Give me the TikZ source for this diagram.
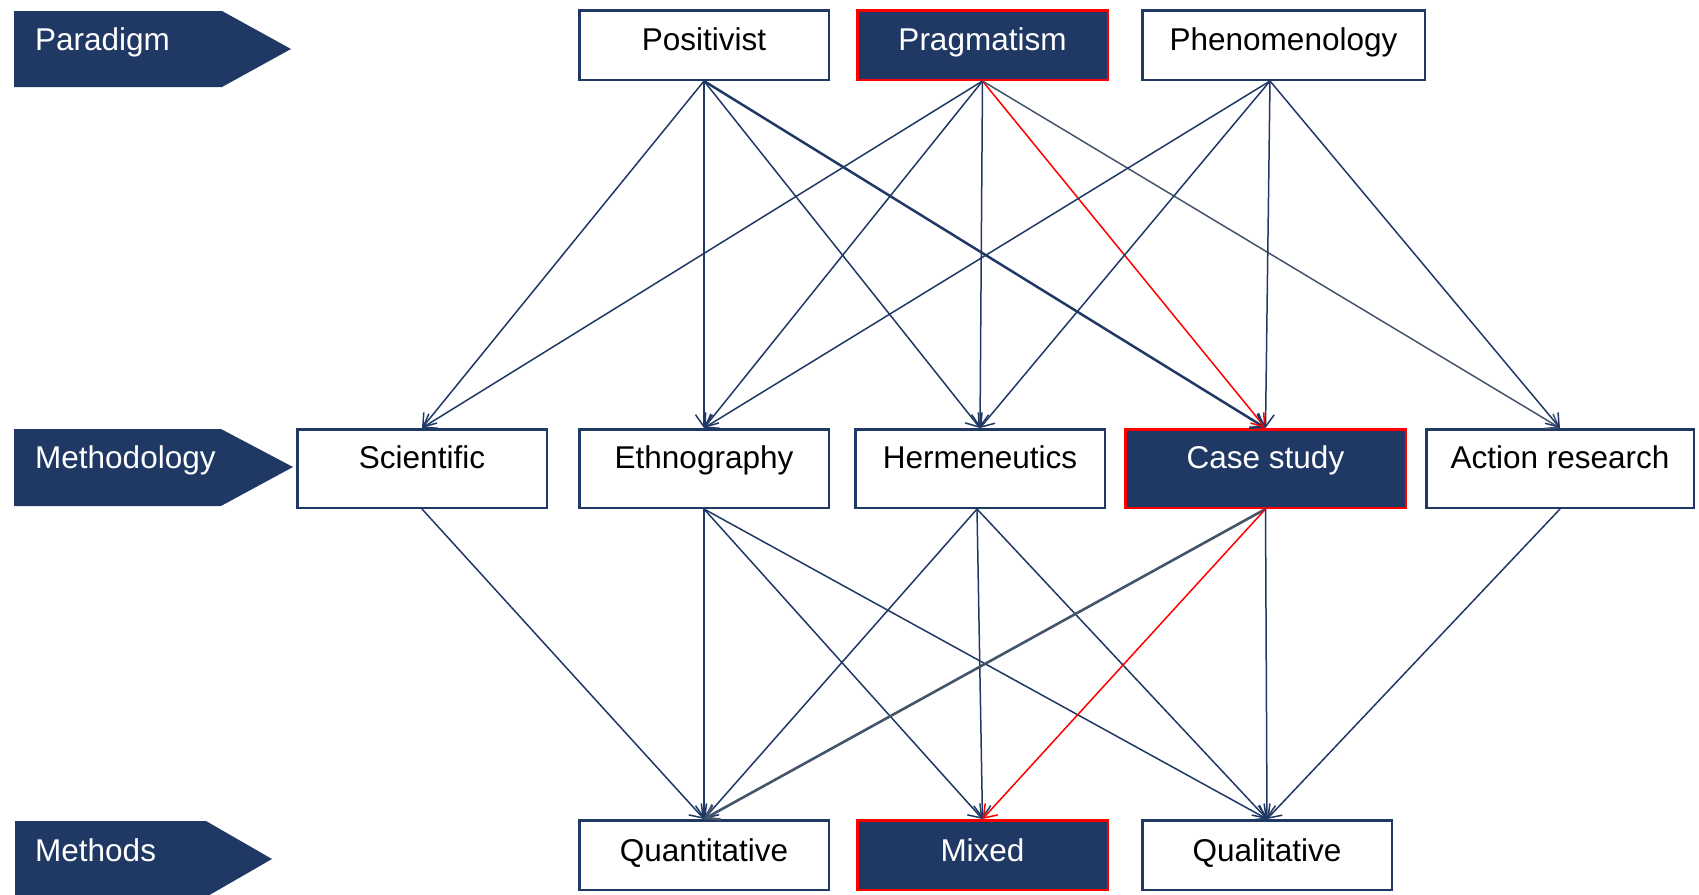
\documentclass[tikz,border=0pt]{standalone}
\usepackage{fontspec}
\setmainfont{Liberation Sans}
\usetikzlibrary{arrows.meta}
\definecolor{navy}{RGB}{32,56,100}
\definecolor{slate}{RGB}{68,84,106}
\definecolor{hotred}{RGB}{255,0,0}
\begin{document}
\begin{tikzpicture}[x=1pt,y=-1pt,
  box/.style={draw=navy, line width=2.5pt, fill=white, inner sep=0pt,
    font=\fontsize{31.5}{31.5}\selectfont, text=black},
  hot/.style={fill=navy, draw=hotred, text=white},
  toprow/.style={minimum height=69.5pt, text height=22pt, text depth=12pt},
  midrow/.style={minimum height=78.5pt, text height=22pt, text depth=22pt},
  botrow/.style={minimum height=69.5pt, text height=22pt, text depth=10pt},
  chevron/.style={fill=navy},
  tag/.style={anchor=base west, inner sep=0pt, text=white,
    font=\fontsize{31.5}{31.5}\selectfont},
  edge/.style={draw=navy, line width=1.5pt, -{Straight Barb[length=12pt,width=17pt]}},
  boldedge/.style={edge, line width=2.5pt},
  redge/.style={edge, draw=hotred},
  grayedge/.style={edge, draw=slate},
  boldgray/.style={edge, draw=slate, line width=2.6pt}
]
\useasboundingbox (0,0) rectangle (1699,894);

% level chevrons on the left
\fill[chevron] (14,11) -- (222,11) -- (291,49) -- (222,87) -- (14,87) -- cycle;
\fill[chevron] (14,429) -- (221,429) -- (293,467) -- (221,506) -- (14,506) -- cycle;
\fill[chevron] (15,821) -- (206,821) -- (272,859) -- (206,897) -- (15,897) -- cycle;
\node[tag] (lparadigm) at (35,50) {Paradigm};
\node[tag] (lmethodology) at (35,468) {Methodology};
\node[tag] (lmethods) at (35,861) {Methods};

% paradigms
\node[box, toprow, minimum width=249.5pt] (pos) at (704,45) {Positivist};
\node[box, toprow, hot, minimum width=250.5pt] (prag) at (982.5,45) {Pragmatism};
\node[box, toprow, minimum width=282.5pt] (phen) at (1283.5,45) {Phenomenology};
\coordinate (phenout) at ([xshift=-13.5pt]phen.south);

% methodologies
\node[box, midrow, minimum width=249.5pt] (sci) at (422,468.5) {Scientific};
\node[box, midrow, minimum width=249.5pt] (eth) at (704,468.5) {Ethnography};
\node[box, midrow, minimum width=249.5pt] (her) at (980,468.5) {Hermeneutics};
\node[box, midrow, hot, minimum width=280.5pt] (cas) at (1265.5,468.5) {Case study};
\node[box, midrow, minimum width=267.5pt] (act) at (1560,468.5) {Action research};
\coordinate (herout) at ([xshift=-3pt]her.south);

% methods
\node[box, botrow, minimum width=249.5pt] (qua) at (704,855) {Quantitative};
\node[box, botrow, hot, minimum width=250.5pt] (mix) at (982.5,855) {Mixed};
\node[box, botrow, minimum width=249.5pt] (qual) at (1267,855) {Qualitative};

% paradigm -> methodology
\draw[edge] (pos.south) -- (sci.north);
\draw[edge] (pos.south) -- (eth.north);
\draw[edge] (pos.south) -- (her.north);
\draw[boldedge] (pos.south) -- (cas.north);
\draw[edge] (prag.south) -- (sci.north);
\draw[edge] (prag.south) -- (eth.north);
\draw[edge] (prag.south) -- (her.north);
\draw[redge] (prag.south) -- (cas.north);
\draw[grayedge] (prag.south) -- (act.north);
\draw[edge] (phenout) -- (eth.north);
\draw[edge] (phenout) -- (her.north);
\draw[edge] (phenout) -- (cas.north);
\draw[edge] (phenout) -- (act.north);

% methodology -> methods
\draw[edge] (sci.south) -- (qua.north);
\draw[edge] (eth.south) -- (qua.north);
\draw[edge] (eth.south) -- (mix.north);
\draw[edge] (eth.south) -- (qual.north);
\draw[edge] (herout) -- (qua.north);
\draw[edge] (herout) -- (mix.north);
\draw[edge] (herout) -- (qual.north);
\draw[boldgray] (cas.south) -- (qua.north);
\draw[redge] (cas.south) -- (mix.north);
\draw[edge] (cas.south) -- (qual.north);
\draw[edge] (act.south) -- (qual.north);
\end{tikzpicture}
\end{document}
